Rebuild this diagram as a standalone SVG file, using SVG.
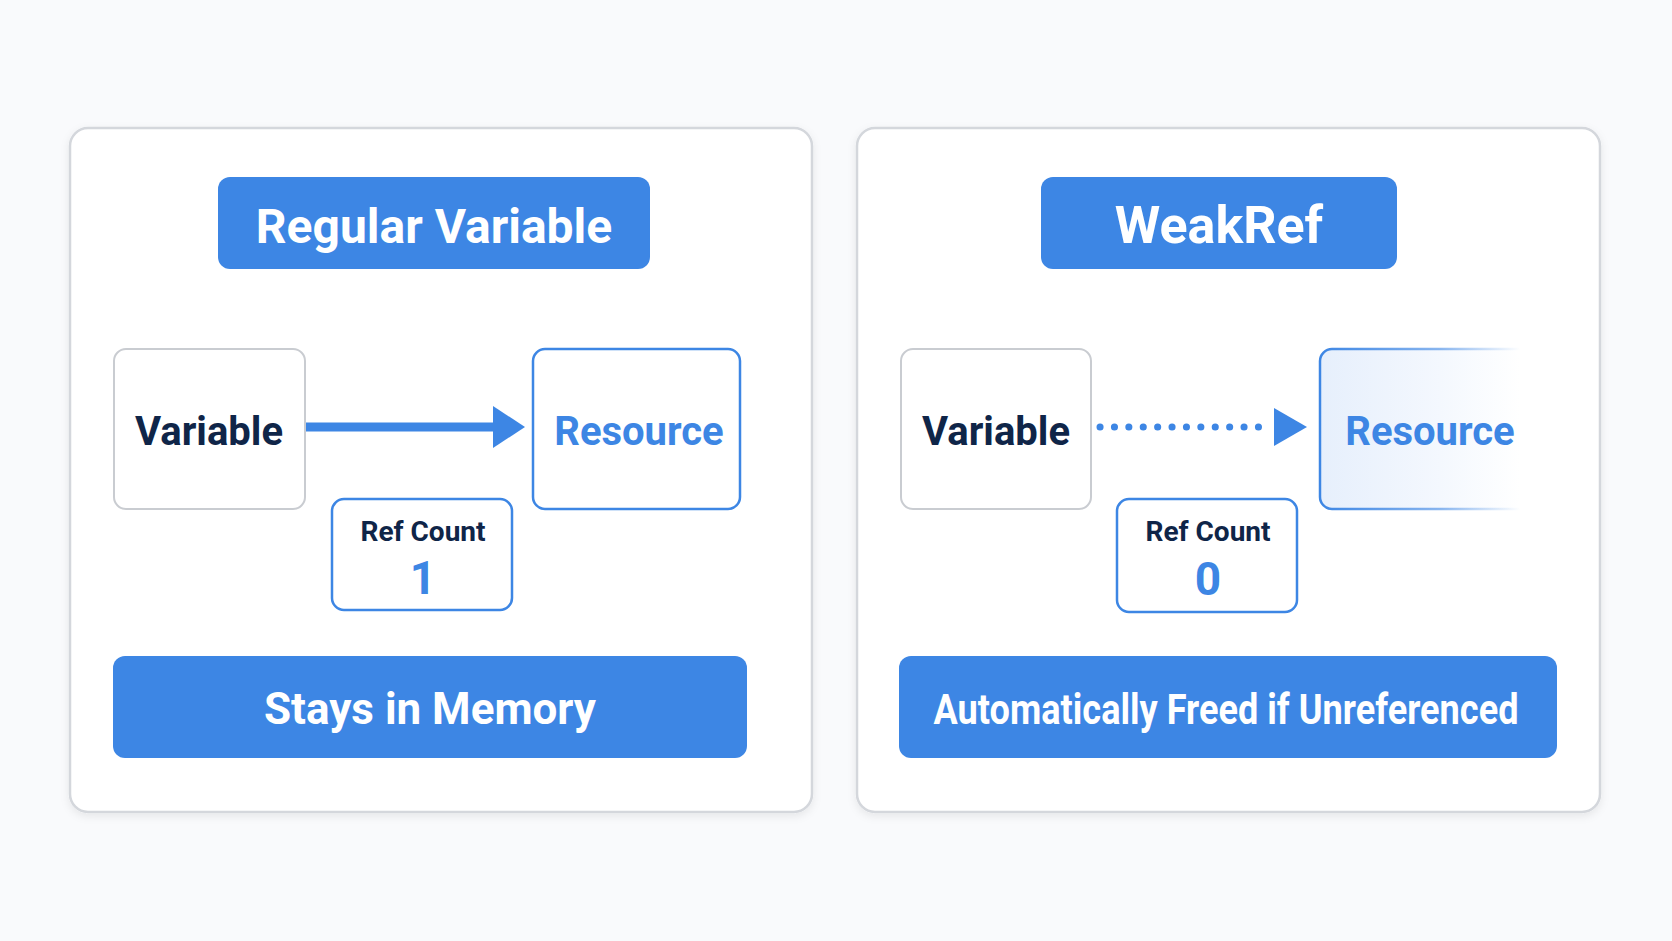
<svg xmlns="http://www.w3.org/2000/svg" width="1672" height="941" viewBox="0 0 1672 941">
<defs>
<style>
.panel{fill:#fff;stroke:#d4d7dc;stroke-width:2.5}
.hdr{fill:#3d86e4}
.box{fill:#fff;stroke:#c9ccd1;stroke-width:2}
.bbox{fill:#fff;stroke:#3d86e4;stroke-width:2.5}
text{font-family:Roboto,"Liberation Sans",sans-serif;font-weight:700;text-anchor:middle}
.w{fill:#fff}
.dk{fill:#0f2548}
.bl{fill:#3d86e4}
</style>
<linearGradient id="fade" x1="0" x2="1" y1="0" y2="0">
<stop offset="0" stop-color="#e6effc"/><stop offset="0.6" stop-color="#f4f8fe"/><stop offset="1" stop-color="#fff"/>
</linearGradient>
<linearGradient id="fadeS" x1="0" x2="1" y1="0" y2="0">
<stop offset="0" stop-color="#3d86e4"/><stop offset="0.6" stop-color="#3d86e4" stop-opacity="0.6"/><stop offset="1" stop-color="#3d86e4" stop-opacity="0"/>
</linearGradient>
<filter id="sh" x="-5%" y="-5%" width="110%" height="110%"><feDropShadow dx="0" dy="3" stdDeviation="4" flood-color="#000" flood-opacity="0.08"/></filter>
</defs>
<rect width="1672" height="941" fill="#f9fafc"/>
<g id="left-panel">
<rect class="panel" x="70" y="128" width="742" height="684" rx="18" filter="url(#sh)"/>
</g>
<g id="right-panel">
<rect class="panel" x="857" y="128" width="743" height="684" rx="18" filter="url(#sh)"/>
</g>
<g id="title-left"><rect class="hdr" x="218" y="177" width="432" height="92" rx="12"/><text class="w" x="434" y="243" font-size="48">Regular Variable</text></g>
<g id="title-right"><rect class="hdr" x="1041" y="177" width="356" height="92" rx="12"/><text class="w" x="1219" y="243" font-size="52">WeakRef</text></g>
<g id="var-left"><rect class="box" x="114" y="349" width="191" height="160" rx="12"/><text class="dk" x="209" y="445" font-size="40">Variable</text></g>
<g id="res-left"><rect class="bbox" x="533" y="349" width="207" height="160" rx="12"/><text class="bl" x="639" y="445" font-size="40">Resource</text></g>
<g id="rc-left"><rect class="bbox" x="332" y="499" width="180" height="111" rx="12" stroke-width="2"/><text class="dk" x="423" y="541" font-size="28">Ref Count</text><text class="bl" x="423" y="594" font-size="46">1</text></g>
<g id="out-left"><rect class="hdr" x="113" y="656" width="634" height="102" rx="12"/><text class="w" x="430" y="724" font-size="44">Stays in Memory</text></g>
<g id="var-right"><rect class="box" x="901" y="349" width="190" height="160" rx="12"/><text class="dk" x="996" y="445" font-size="40">Variable</text></g>
<g id="res-right"><rect x="1320" y="349" width="200" height="160" rx="12" fill="url(#fade)"/><path d="M1520 349 H1332 A12 12 0 0 0 1320 361 V497 A12 12 0 0 0 1332 509 H1520" fill="none" stroke="url(#fadeS)" stroke-width="2.5"/><text class="bl" x="1430" y="445" font-size="40">Resource</text></g>
<g id="rc-right"><rect class="bbox" x="1117" y="499" width="180" height="113" rx="12" stroke-width="2"/><text class="dk" x="1208" y="541" font-size="28">Ref Count</text><text class="bl" x="1208" y="595" font-size="46">0</text></g>
<g id="out-right"><rect class="hdr" x="899" y="656" width="658" height="102" rx="12"/><text class="w" x="1226" y="724" font-size="42" textLength="585" lengthAdjust="spacingAndGlyphs">Automatically Freed if Unreferenced</text></g>
<g id="connectors">
<line x1="306" y1="427" x2="495" y2="427" stroke="#3d86e4" stroke-width="9"/>
<polygon points="493,406 525,427 493,448" fill="#3d86e4"/>
<line x1="1100" y1="427" x2="1272" y2="427" stroke="#3d86e4" stroke-width="7" stroke-linecap="round" stroke-dasharray="0.1 14.3"/>
<polygon points="1274,408 1307,427 1274,446" fill="#3d86e4"/>
</g>
</svg>
